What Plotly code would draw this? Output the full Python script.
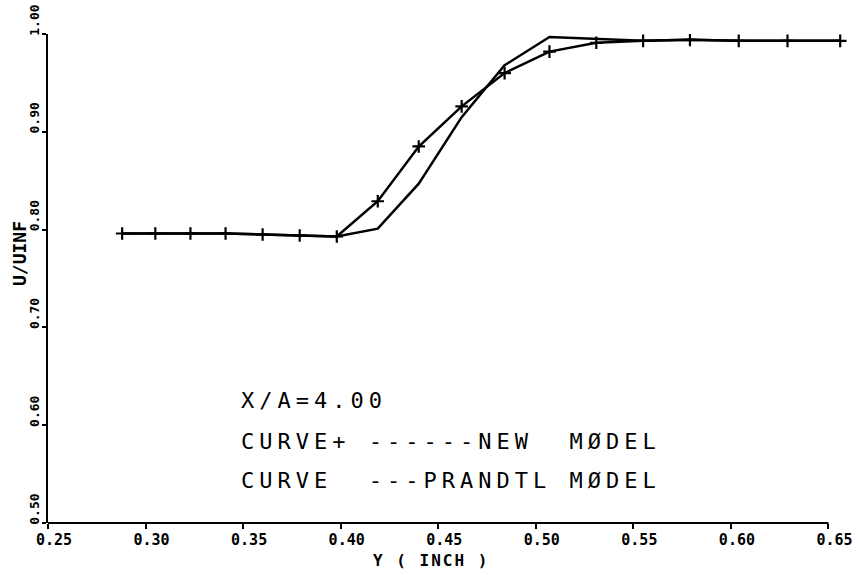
import plotly.graph_objects as go

# Data
y_inch = [0.288, 0.305, 0.323, 0.341, 0.360, 0.379, 0.398, 0.419, 0.440,
          0.462, 0.484, 0.507, 0.531, 0.555, 0.579, 0.604, 0.629, 0.656]
u_new = [0.796, 0.796, 0.796, 0.796, 0.795, 0.794, 0.793, 0.829, 0.885,
         0.926, 0.960, 0.982, 0.991, 0.993, 0.994, 0.993, 0.993, 0.993]
u_prandtl = [0.796, 0.796, 0.796, 0.796, 0.795, 0.794, 0.793, 0.801, 0.847,
             0.915, 0.968, 0.997, 0.995, 0.993, 0.994, 0.993, 0.993, 0.993]

x_ticks = [0.25, 0.30, 0.35, 0.40, 0.45, 0.50, 0.55, 0.60, 0.65]
x_ticklabels = ["0.25", "0.30", "0.35", "0.40", "0.45", "0.50", "0.55", "0.60", "0.65"]
y_ticks = [0.50, 0.60, 0.70, 0.80, 0.90, 1.00]
y_ticklabels = ["0.50", "0.60", "0.70", "0.80", "0.90", "1.00"]

legend_lines = ["X/A=4.00", "CURVE+ ------NEW  MØDEL", "CURVE  ---PRANDTL MØDEL"]

MONO = "DejaVu Sans Mono"

fig = go.Figure()
fig.add_trace(go.Scatter(x=y_inch, y=u_prandtl, mode="lines",
                         line=dict(color="black", width=2.5), showlegend=False))
fig.add_trace(go.Scatter(x=y_inch, y=u_new, mode="lines+markers",
                         line=dict(color="black", width=2.5),
                         marker=dict(symbol="cross-thin", size=9,
                                     line=dict(color="black", width=2.2)),
                         showlegend=False))

# bottom axis line from first to last tick
fig.add_shape(type="line", xref="x", yref="paper", x0=x_ticks[0], x1=x_ticks[-1],
              y0=0, y1=0, line=dict(color="black", width=2))

fig.update_xaxes(range=[0.25, 0.66], tickmode="array", tickvals=x_ticks,
                 ticktext=x_ticklabels, showgrid=False, zeroline=False,
                 showline=False, ticks="outside", ticklen=5, tickwidth=2,
                 tickcolor="black", ticklabelshift=6, ticklabelstandoff=-2,
                 automargin=False,
                 tickfont=dict(family=MONO, size=15, color="black", weight="bold"))
fig.update_yaxes(range=[0.5, 1.0], tickmode="array", tickvals=y_ticks,
                 ticktext=y_ticklabels, showgrid=False, zeroline=False,
                 showline=True, linecolor="black", linewidth=2,
                 ticks="outside", ticklen=4, tickwidth=2, tickcolor="black",
                 tickangle=-90, ticklabelshift=-12, ticklabelstandoff=-2,
                 automargin=False,
                 tickfont=dict(family=MONO, size=13, color="black", weight="bold"))

# Axis titles
fig.add_annotation(text='<span style="letter-spacing:2px">Y ( INCH )</span>',
                   xref="paper", yref="paper",
                   x=(431 - 48) / 800, y=(523 - 560) / 489, xanchor="center",
                   yanchor="middle", showarrow=False,
                   font=dict(family=MONO, size=16, color="black", weight="bold"))
fig.add_annotation(text="U/UINF", xref="paper", yref="paper",
                   x=(20 - 48) / 800, y=(523 - 253) / 489, xanchor="center",
                   yanchor="middle", showarrow=False, textangle=-90,
                   font=dict(family=MONO, size=18, color="black", weight="bold"))

# Text block
line_y = [400, 441.7, 480]
for txt, py in zip(legend_lines, line_y):
    fig.add_annotation(text='<span style="letter-spacing:5px">' + txt + '</span>',
                       xref="paper", yref="paper",
                       x=(239 - 48) / 800, y=(523 - py) / 489,
                       xanchor="left", yanchor="middle", showarrow=False,
                       font=dict(family=MONO, size=22, color="black"))

fig.update_layout(width=860, height=575,
                  margin=dict(l=48, r=12, t=34, b=52),
                  plot_bgcolor="white", paper_bgcolor="white")

fig.write_html("out.html")
